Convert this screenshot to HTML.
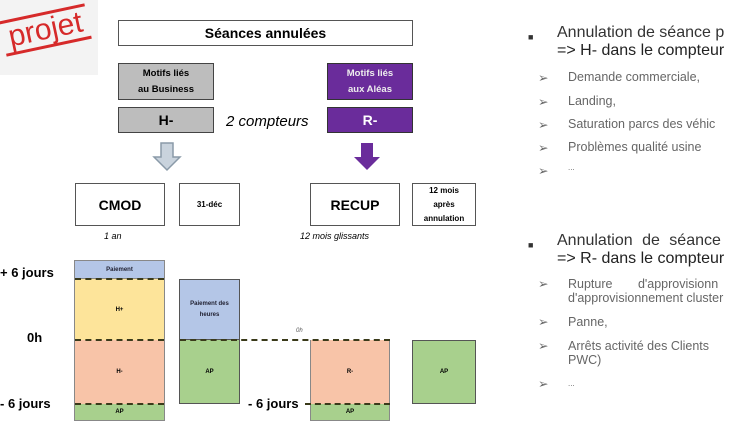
<!DOCTYPE html>
<html><head><meta charset="utf-8"><style>
body{margin:0;width:750px;height:443px;background:#fff;position:relative;overflow:hidden;font-family:"Liberation Sans",sans-serif}
.a{position:absolute;box-sizing:border-box}
.c{display:flex;align-items:center;justify-content:center;text-align:center}
.dash{position:absolute;height:0;border-top:2px dashed #3a3a1a}
.t{position:absolute;white-space:nowrap}
</style></head><body>
<div class="a" style="left:0;top:0;width:98px;height:75px;background:#f3f3f3"></div>
<div class="t" style="left:2px;top:12px;transform:rotate(-12deg);color:#d62a2a;font-size:30px;border-top:3px solid #d62a2a;border-bottom:3px solid #d62a2a;padding:0 6px;line-height:30px">projet</div>

<div class="a c" style="left:118px;top:20px;width:295px;height:26px;border:1.5px solid #555;font-weight:bold;font-size:14px">Séances annulées</div>
<div class="a c" style="left:118px;top:63px;width:96px;height:37px;background:#bdbdbd;border:1.5px solid #444;font-weight:bold;font-size:9.5px;line-height:16px">Motifs liés<br>au Business</div>
<div class="a c" style="left:118px;top:107px;width:96px;height:26px;background:#bdbdbd;border:1.5px solid #444;font-weight:bold;font-size:14px">H-</div>
<div class="a c" style="left:327px;top:63px;width:86px;height:37px;background:#6a2c9b;border:1.5px solid #333;color:#eee;font-weight:bold;font-size:9.5px;line-height:16px">Motifs liés<br>aux Aléas</div>
<div class="a c" style="left:327px;top:107px;width:86px;height:26px;background:#6a2c9b;border:1.5px solid #333;color:#fff;font-weight:bold;font-size:14px">R-</div>
<div class="t" style="left:226px;top:113px;font-style:italic;font-size:15px">2 compteurs</div>
<svg class="a" style="left:0;top:0" width="500" height="443">
<polygon points="161,143 173,143 173,157 180,157 167,170 154,157 161,157" fill="#c9d3dd" stroke="#8a9aa8" stroke-width="1.5"/>
<polygon points="361,143 373,143 373,157 380,157 367,170 354,157 361,157" fill="#6a2c9b"/>
</svg>
<div class="a c" style="left:75px;top:183px;width:90px;height:43px;border:1px solid #555;font-weight:bold;font-size:14px">CMOD</div>
<div class="a c" style="left:179px;top:183px;width:61px;height:43px;border:1px solid #555;font-weight:bold;font-size:8px">31-déc</div>
<div class="a c" style="left:310px;top:183px;width:90px;height:43px;border:1px solid #555;font-weight:bold;font-size:14px">RECUP</div>
<div class="a c" style="left:412px;top:183px;width:64px;height:43px;border:1px solid #555;font-weight:bold;font-size:8px;line-height:14px">12 mois<br>après<br>annulation</div>
<div class="t" style="left:104px;top:231px;font-style:italic;font-size:9px">1 an</div>
<div class="t" style="left:300px;top:231px;font-style:italic;font-size:9px">12 mois glissants</div>

<div class="t" style="left:0;top:265px;font-weight:bold;font-size:13px">+ 6 jours</div>
<div class="t" style="left:27px;top:330px;font-weight:bold;font-size:13px">0h</div>
<div class="t" style="left:0;top:396px;font-weight:bold;font-size:13px">- 6 jours</div>

<div class="a c" style="left:74px;top:260px;width:91px;height:19px;background:#b4c6e7;border:1px solid #888;font-size:6px;font-weight:bold;color:#223">Paiement</div>
<div class="a c" style="left:74px;top:279px;width:91px;height:61px;background:#fde49a;border-left:1px solid #888;border-right:1px solid #888;font-size:6px;font-weight:bold">H+</div>
<div class="a c" style="left:74px;top:340px;width:91px;height:64px;background:#f8c4a8;border-left:1px solid #888;border-right:1px solid #888;font-size:6px;font-weight:bold">H-</div>
<div class="a c" style="left:74px;top:404px;width:91px;height:17px;background:#a8d08d;border:1px solid #888;border-top:none;font-size:6px;font-weight:bold">AP</div>

<div class="a c" style="left:179px;top:279px;width:61px;height:61px;background:#b4c6e7;border:1.5px solid #555;font-size:6px;font-weight:bold;color:#223;line-height:11px">Paiement des<br>heures</div>
<div class="a c" style="left:179px;top:340px;width:61px;height:64px;background:#a8d08d;border:1.5px solid #555;border-top:none;font-size:6px;font-weight:bold">AP</div>

<div class="a c" style="left:310px;top:340px;width:80px;height:64px;background:#f8c4a8;border-left:1px solid #888;border-right:1px solid #888;font-size:6px;font-weight:bold">R-</div>
<div class="a c" style="left:310px;top:404px;width:80px;height:17px;background:#a8d08d;border:1px solid #888;border-top:none;font-size:6px;font-weight:bold">AP</div>
<div class="a c" style="left:412px;top:340px;width:64px;height:64px;background:#a8d08d;border:1.5px solid #555;font-size:6px;font-weight:bold">AP</div>

<div class="dash" style="left:75px;top:278px;width:89px"></div>
<div class="dash" style="left:75px;top:339px;width:89px"></div>
<div class="dash" style="left:75px;top:403px;width:89px"></div>
<div class="dash" style="left:180px;top:339px;width:210px"></div>
<div class="dash" style="left:305px;top:403px;width:85px"></div>
<div class="t" style="left:296px;top:328px;font-size:6px;font-style:italic;color:#555">0h</div>
<div class="t" style="left:248px;top:396px;font-weight:bold;font-size:13px;background:#fff">- 6 jours</div>

<div style="position:absolute;left:528px;top:24px;font-size:16px;color:#333;line-height:18px">
<div class="t" style="left:0;top:4px;font-size:9px">■</div>
<div class="t" style="left:29px;top:0">Annulation de séance p</div>
<div class="t" style="left:29px;top:18px;color:#222">=&gt; H- dans le compteur</div>
</div>
<div style="position:absolute;left:538px;top:70px;font-size:12.5px;color:#666">
<div class="t" style="top:0">➢<span style="position:absolute;left:30px">Demande commerciale,</span></div>
<div class="t" style="top:24px">➢<span style="position:absolute;left:30px">Landing,</span></div>
<div class="t" style="top:47px">➢<span style="position:absolute;left:30px">Saturation parcs des véhic</span></div>
<div class="t" style="top:70px">➢<span style="position:absolute;left:30px">Problèmes qualité usine</span></div>
<div class="t" style="top:93px">➢<span style="position:absolute;left:30px;font-size:8px">...</span></div>
</div>
<div style="position:absolute;left:528px;top:232px;font-size:16px;color:#333;line-height:18px">
<div class="t" style="left:0;top:4px;font-size:9px">■</div>
<div class="t" style="left:29px;top:0;word-spacing:5px">Annulation de séance</div>
<div class="t" style="left:29px;top:18px;color:#222">=&gt; R- dans le compteur</div>
</div>
<div style="position:absolute;left:538px;top:277px;font-size:12.5px;color:#666;line-height:14px">
<div class="t" style="top:0">➢<span style="position:absolute;left:30px;word-spacing:22px">Rupture d'approvisionn</span></div>
<div class="t" style="top:14px"><span style="position:absolute;left:30px">d'approvisionnement cluster</span></div>
<div class="t" style="top:38px">➢<span style="position:absolute;left:30px">Panne,</span></div>
<div class="t" style="top:62px">➢<span style="position:absolute;left:30px">Arrêts activité des Clients</span></div>
<div class="t" style="top:76px"><span style="position:absolute;left:30px">PWC)</span></div>
<div class="t" style="top:100px">➢<span style="position:absolute;left:30px;font-size:8px">...</span></div>
</div>
</body></html>
